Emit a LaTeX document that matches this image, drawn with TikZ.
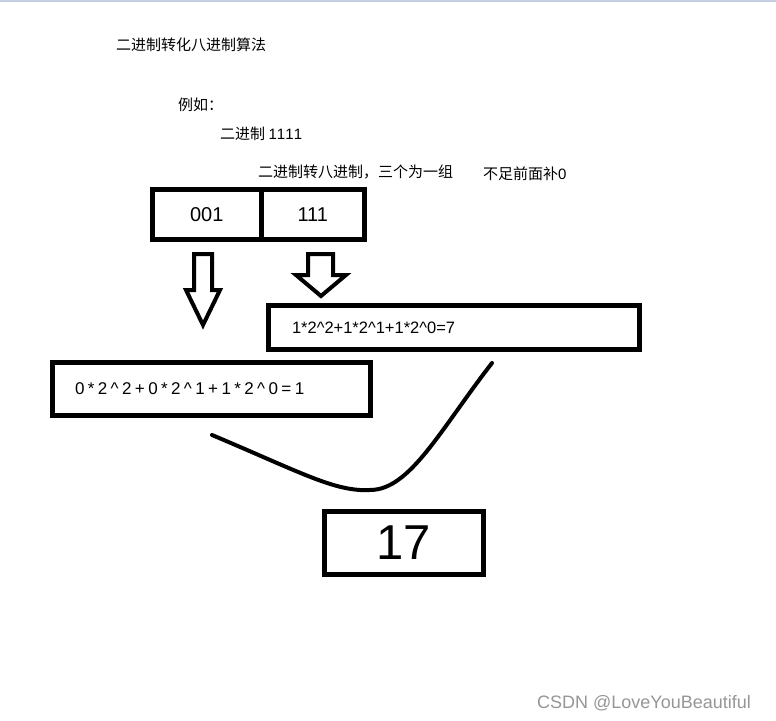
\documentclass[tikz,border=0pt]{standalone}
\usepackage{fontspec}
\setmainfont{Liberation Sans}
\newfontfamily\cjk{Noto Sans CJK SC}
\newfontfamily\spacedfont[LetterSpace=20]{Liberation Sans}
\newfontfamily\digitfont[LetterSpace=8]{Liberation Sans}
\definecolor{topline}{RGB}{197,206,224}
\definecolor{wmark}{RGB}{150,150,150}
\tikzset{
  thickbox/.style={draw=black, line width=5pt, rectangle, inner sep=0pt},
  cjktext/.style={anchor=west, inner sep=0pt, font=\cjk\fontsize{15}{17}\selectfont},
  hollowarrow/.style={draw=black, line width=4pt, line join=miter, fill=white},
  bowline/.style={draw=black, line width=4pt, line cap=round}
}
\begin{document}
\begin{tikzpicture}[x=1pt,y=-1pt]
\useasboundingbox (0,0) rectangle (776,720);
\fill[white] (0,0) rectangle (776,720);
\draw[topline, line width=1.5pt] (0,0.75) -- (776,0.75);

% headings
\node[cjktext] (title) at (116,45) {二进制转化八进制算法};
\node[cjktext] (eg) at (178,105) {例如：};
\node[cjktext] (bin) at (220,133.5) {二进制 {\digitfont 1111}};
\node[cjktext] (rule) at (258,171.5) {二进制转八进制，三个为一组};
\node[cjktext] (pad) at (483,174) {不足前面补{\digitfont 0}};

% split box
\node[thickbox, minimum width=108.5pt, minimum height=50pt, font=\fontsize{20}{22}\selectfont] (b001) at (206.75,214.5) {001};
\node[thickbox, minimum width=103.5pt, minimum height=50pt, font=\fontsize{20}{22}\selectfont] (b111) at (312.75,214.5) {111};

% hollow arrows
\draw[hollowarrow] (194,254) -- (212,254) -- (212,290) -- (220,290) -- (203,325) -- (186,290) -- (194,290) -- cycle;
\draw[hollowarrow] (308,254) -- (333,254) -- (333,275) -- (346,275) -- (321,296) -- (296,275) -- (308,275) -- cycle;

% equation boxes
\node[thickbox, minimum width=371pt, minimum height=44pt, text width=324pt, align=left, inner xsep=23.5pt, font=\fontsize{16.5}{18}\selectfont] (eq7) at (454,327.5) {1*2\^{}2+1*2\^{}1+1*2\^{}0=7};
\node[thickbox, minimum width=318pt, minimum height=53pt, text width=273pt, align=left, inner xsep=22.5pt, font=\spacedfont\fontsize{17}{19}\selectfont] (eq1) at (211.5,389) {0*2\^{}2+0*2\^{}1+1*2\^{}0=1};

% joining curve
\coordinate (cstart) at (212,435);
\coordinate (cbottom) at (370,490);
\coordinate (cend) at (492,363);
\draw[bowline] (cstart) .. controls (300,472) and (335,492) .. (cbottom) .. controls (410,490) and (440,430) .. (cend);

% result
\node[thickbox, minimum width=159pt, minimum height=63pt, font=\fontsize{49}{52}\selectfont] (res) at (404,543) {17};

% watermark
\node[anchor=west, inner sep=0pt, text=wmark, font=\fontsize{18}{20}\selectfont] (wm) at (537,703) {CSDN @LoveYouBeautiful};
\end{tikzpicture}
\end{document}
